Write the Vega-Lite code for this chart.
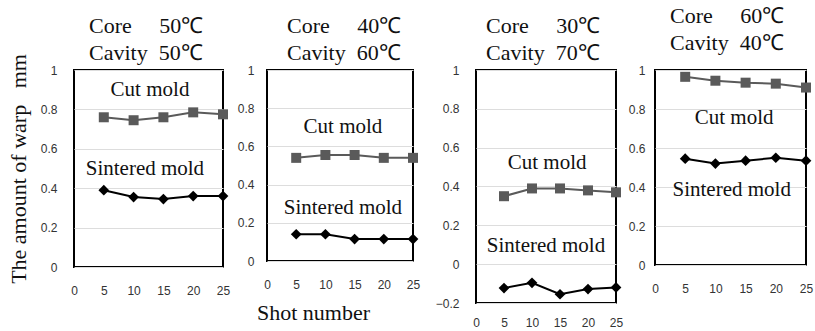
{
  "$schema": "https://vega.github.io/schema/vega-lite/v6.json",
  "padding": {"left": 6, "top": 4, "right": 0, "bottom": 0},
  "background": "#ffffff",
  "spacing": 0,
  "datasets": {
    "d": [
      {"p": 1, "shot": 5, "mold": "Cut mold", "v": 0.76},
      {"p": 1, "shot": 10, "mold": "Cut mold", "v": 0.745},
      {"p": 1, "shot": 15, "mold": "Cut mold", "v": 0.76},
      {"p": 1, "shot": 20, "mold": "Cut mold", "v": 0.785},
      {"p": 1, "shot": 25, "mold": "Cut mold", "v": 0.775},
      {"p": 1, "shot": 5, "mold": "Sintered mold", "v": 0.39},
      {"p": 1, "shot": 10, "mold": "Sintered mold", "v": 0.355},
      {"p": 1, "shot": 15, "mold": "Sintered mold", "v": 0.345},
      {"p": 1, "shot": 20, "mold": "Sintered mold", "v": 0.36},
      {"p": 1, "shot": 25, "mold": "Sintered mold", "v": 0.36},
      {"p": 2, "shot": 5, "mold": "Cut mold", "v": 0.54},
      {"p": 2, "shot": 10, "mold": "Cut mold", "v": 0.555},
      {"p": 2, "shot": 15, "mold": "Cut mold", "v": 0.555},
      {"p": 2, "shot": 20, "mold": "Cut mold", "v": 0.54},
      {"p": 2, "shot": 25, "mold": "Cut mold", "v": 0.54},
      {"p": 2, "shot": 5, "mold": "Sintered mold", "v": 0.14},
      {"p": 2, "shot": 10, "mold": "Sintered mold", "v": 0.14},
      {"p": 2, "shot": 15, "mold": "Sintered mold", "v": 0.115},
      {"p": 2, "shot": 20, "mold": "Sintered mold", "v": 0.115},
      {"p": 2, "shot": 25, "mold": "Sintered mold", "v": 0.115},
      {"p": 3, "shot": 5, "mold": "Cut mold", "v": 0.35},
      {"p": 3, "shot": 10, "mold": "Cut mold", "v": 0.39},
      {"p": 3, "shot": 15, "mold": "Cut mold", "v": 0.39},
      {"p": 3, "shot": 20, "mold": "Cut mold", "v": 0.38},
      {"p": 3, "shot": 25, "mold": "Cut mold", "v": 0.37},
      {"p": 3, "shot": 5, "mold": "Sintered mold", "v": -0.123},
      {"p": 3, "shot": 10, "mold": "Sintered mold", "v": -0.096},
      {"p": 3, "shot": 15, "mold": "Sintered mold", "v": -0.155},
      {"p": 3, "shot": 20, "mold": "Sintered mold", "v": -0.128},
      {"p": 3, "shot": 25, "mold": "Sintered mold", "v": -0.12},
      {"p": 4, "shot": 5, "mold": "Cut mold", "v": 0.965},
      {"p": 4, "shot": 10, "mold": "Cut mold", "v": 0.945},
      {"p": 4, "shot": 15, "mold": "Cut mold", "v": 0.935},
      {"p": 4, "shot": 20, "mold": "Cut mold", "v": 0.93},
      {"p": 4, "shot": 25, "mold": "Cut mold", "v": 0.91},
      {"p": 4, "shot": 5, "mold": "Sintered mold", "v": 0.545},
      {"p": 4, "shot": 10, "mold": "Sintered mold", "v": 0.52},
      {"p": 4, "shot": 15, "mold": "Sintered mold", "v": 0.535},
      {"p": 4, "shot": 20, "mold": "Sintered mold", "v": 0.55},
      {"p": 4, "shot": 25, "mold": "Sintered mold", "v": 0.535}
    ],
    "lab": [
      {"p": 1, "x": 12.75, "y": 0.9, "t": "Cut mold"},
      {"p": 1, "x": 11.9, "y": 0.5, "t": "Sintered mold"},
      {"p": 2, "x": 13.0, "y": 0.7, "t": "Cut mold"},
      {"p": 2, "x": 13.0, "y": 0.28, "t": "Sintered mold"},
      {"p": 3, "x": 12.7, "y": 0.52, "t": "Cut mold"},
      {"p": 3, "x": 12.5, "y": 0.095, "t": "Sintered mold"},
      {"p": 4, "x": 13.1, "y": 0.754, "t": "Cut mold"},
      {"p": 4, "x": 12.7, "y": 0.385, "t": "Sintered mold"}
    ]
  },
  "hconcat": [
    {
      "width": 149, "height": 197,
      "title": {"text": ["Core\u00a0\u00a0\u00a0\u00a0\u00a050℃", "Cavity\u00a0\u00a050℃"], "dx": 15, "offset": -11},
      "encoding": {
        "x": {"field": "shot", "type": "quantitative", "scale": {"domain": [0, 25], "nice": false}, "axis": {"title": null}},
        "y": {"field": "v", "type": "quantitative", "scale": {"domain": [0, 1], "nice": false},
              "axis": {"title": "The amount of warp\u00a0\u00a0\u00a0mm", "labelPadding": 17, "titlePadding": 10, "values": [0, 0.2, 0.4, 0.6, 0.8, 1]}}
      },
      "layer": [
        {"data": {"name": "d"}, "transform": [{"filter": "datum.p === 1"}], "mark": {"type": "line", "strokeWidth": 2},
         "encoding": {"color": {"field": "mold", "type": "nominal", "scale": {"domain": ["Cut mold", "Sintered mold"], "range": ["#5a5a5a", "#000000"]}, "legend": null}}},
        {"data": {"name": "d"}, "transform": [{"filter": "datum.p === 1"}], "mark": {"type": "point", "filled": true, "opacity": 1, "strokeWidth": 1},
         "encoding": {"color": {"field": "mold", "type": "nominal", "scale": {"domain": ["Cut mold", "Sintered mold"], "range": ["#5a5a5a", "#000000"]}, "legend": null},
                      "shape": {"field": "mold", "type": "nominal", "scale": {"domain": ["Cut mold", "Sintered mold"], "range": ["square", "diamond"]}, "legend": null},
                      "size": {"field": "mold", "type": "nominal", "scale": {"domain": ["Cut mold", "Sintered mold"], "range": [100, 115]}, "legend": null}}},
        {"data": {"name": "lab"}, "transform": [{"filter": "datum.p === 1"}], "mark": {"type": "text", "font": "Liberation Serif", "fontSize": 21, "color": "#111"},
         "encoding": {"x": {"field": "x", "type": "quantitative"}, "y": {"field": "y", "type": "quantitative"}, "text": {"field": "t"}}}
      ]
    },
    {
      "width": 146, "height": 191,
      "title": {"text": ["Core\u00a0\u00a0\u00a0\u00a0\u00a040℃", "Cavity\u00a0\u00a060℃"], "dx": 20, "offset": -1},
      "encoding": {
        "x": {"field": "shot", "type": "quantitative", "scale": {"domain": [0, 25], "nice": false}, "axis": {"title": "Shot number", "titleX": 46, "titlePadding": 12}},
        "y": {"field": "v", "type": "quantitative", "scale": {"domain": [0, 1], "nice": false},
              "axis": {"title": null, "labelPadding": 13, "minExtent": 35, "values": [0, 0.2, 0.4, 0.6, 0.8, 1]}}
      },
      "layer": [
        {"data": {"name": "d"}, "transform": [{"filter": "datum.p === 2"}], "mark": {"type": "line", "strokeWidth": 2},
         "encoding": {"color": {"field": "mold", "type": "nominal", "scale": {"domain": ["Cut mold", "Sintered mold"], "range": ["#5a5a5a", "#000000"]}, "legend": null}}},
        {"data": {"name": "d"}, "transform": [{"filter": "datum.p === 2"}], "mark": {"type": "point", "filled": true, "opacity": 1, "strokeWidth": 1},
         "encoding": {"color": {"field": "mold", "type": "nominal", "scale": {"domain": ["Cut mold", "Sintered mold"], "range": ["#5a5a5a", "#000000"]}, "legend": null},
                      "shape": {"field": "mold", "type": "nominal", "scale": {"domain": ["Cut mold", "Sintered mold"], "range": ["square", "diamond"]}, "legend": null},
                      "size": {"field": "mold", "type": "nominal", "scale": {"domain": ["Cut mold", "Sintered mold"], "range": [100, 115]}, "legend": null}}},
        {"data": {"name": "lab"}, "transform": [{"filter": "datum.p === 2"}], "mark": {"type": "text", "font": "Liberation Serif", "fontSize": 21, "color": "#111"},
         "encoding": {"x": {"field": "x", "type": "quantitative"}, "y": {"field": "y", "type": "quantitative"}, "text": {"field": "t"}}}
      ]
    },
    {
      "width": 140, "height": 233,
      "title": {"text": ["Core\u00a0\u00a0\u00a0\u00a0\u00a030℃", "Cavity\u00a0\u00a070℃"], "dx": 10, "offset": -1},
      "encoding": {
        "x": {"field": "shot", "type": "quantitative", "scale": {"domain": [0, 25], "nice": false}, "axis": {"title": null, "labelPadding": 14}},
        "y": {"field": "v", "type": "quantitative", "scale": {"domain": [-0.2, 1], "nice": false},
              "axis": {"title": null, "labelPadding": 17, "minExtent": 54, "values": [-0.2, 0, 0.2, 0.4, 0.6, 0.8, 1]}}
      },
      "layer": [
        {"data": {"name": "d"}, "transform": [{"filter": "datum.p === 3"}], "mark": {"type": "line", "strokeWidth": 2},
         "encoding": {"color": {"field": "mold", "type": "nominal", "scale": {"domain": ["Cut mold", "Sintered mold"], "range": ["#5a5a5a", "#000000"]}, "legend": null}}},
        {"mark": {"type": "rule", "color": "#000", "strokeWidth": 2}, "encoding": {"y": {"datum": 0}}},
        {"data": {"name": "d"}, "transform": [{"filter": "datum.p === 3"}], "mark": {"type": "point", "filled": true, "opacity": 1, "strokeWidth": 1},
         "encoding": {"color": {"field": "mold", "type": "nominal", "scale": {"domain": ["Cut mold", "Sintered mold"], "range": ["#5a5a5a", "#000000"]}, "legend": null},
                      "shape": {"field": "mold", "type": "nominal", "scale": {"domain": ["Cut mold", "Sintered mold"], "range": ["square", "diamond"]}, "legend": null},
                      "size": {"field": "mold", "type": "nominal", "scale": {"domain": ["Cut mold", "Sintered mold"], "range": [100, 115]}, "legend": null}}},
        {"data": {"name": "lab"}, "transform": [{"filter": "datum.p === 3"}], "mark": {"type": "text", "font": "Liberation Serif", "fontSize": 21, "color": "#111"},
         "encoding": {"x": {"field": "x", "type": "quantitative"}, "y": {"field": "y", "type": "quantitative"}, "text": {"field": "t"}}}
      ]
    },
    {
      "width": 151, "height": 195,
      "title": {"text": ["Core\u00a0\u00a0\u00a0\u00a0\u00a060℃", "Cavity\u00a0\u00a040℃"], "dx": 15, "offset": 9},
      "encoding": {
        "x": {"field": "shot", "type": "quantitative", "scale": {"domain": [0, 25], "nice": false}, "axis": {"title": null}},
        "y": {"field": "v", "type": "quantitative", "scale": {"domain": [0, 1], "nice": false},
              "axis": {"title": null, "labelPadding": 10, "minExtent": 30, "values": [0, 0.2, 0.4, 0.6, 0.8, 1]}}
      },
      "layer": [
        {"data": {"name": "d"}, "transform": [{"filter": "datum.p === 4"}], "mark": {"type": "line", "strokeWidth": 2},
         "encoding": {"color": {"field": "mold", "type": "nominal", "scale": {"domain": ["Cut mold", "Sintered mold"], "range": ["#5a5a5a", "#000000"]}, "legend": null}}},
        {"data": {"name": "d"}, "transform": [{"filter": "datum.p === 4"}], "mark": {"type": "point", "filled": true, "opacity": 1, "strokeWidth": 1},
         "encoding": {"color": {"field": "mold", "type": "nominal", "scale": {"domain": ["Cut mold", "Sintered mold"], "range": ["#5a5a5a", "#000000"]}, "legend": null},
                      "shape": {"field": "mold", "type": "nominal", "scale": {"domain": ["Cut mold", "Sintered mold"], "range": ["square", "diamond"]}, "legend": null},
                      "size": {"field": "mold", "type": "nominal", "scale": {"domain": ["Cut mold", "Sintered mold"], "range": [100, 115]}, "legend": null}}},
        {"data": {"name": "lab"}, "transform": [{"filter": "datum.p === 4"}], "mark": {"type": "text", "font": "Liberation Serif", "fontSize": 21, "color": "#111"},
         "encoding": {"x": {"field": "x", "type": "quantitative"}, "y": {"field": "y", "type": "quantitative"}, "text": {"field": "t"}}}
      ]
    }
  ],
  "resolve": {"scale": {"color": "independent", "shape": "independent", "size": "independent"}},
  "config": {
    "view": {"stroke": "#000000", "strokeWidth": 2},
    "axis": {
      "labelFont": "Liberation Sans", "labelFontSize": 12, "labelColor": "#333333",
      "ticks": false, "domain": false, "gridColor": "#dddddd", "gridWidth": 1,
      "titleFont": "Liberation Serif", "titleFontSize": 22, "titleFontWeight": "normal", "titleColor": "#111111"
    },
    "axisX": {"grid": false, "labelPadding": 18, "values": [0, 5, 10, 15, 20, 25], "labelFlush": false},
    "axisY": {"grid": true, "labelFlush": false, "format": "~g"},
    "title": {"font": "Liberation Serif", "fontSize": 22, "fontWeight": "normal", "anchor": "start", "frame": "group", "lineHeight": 27, "color": "#111111"}
  }
}
